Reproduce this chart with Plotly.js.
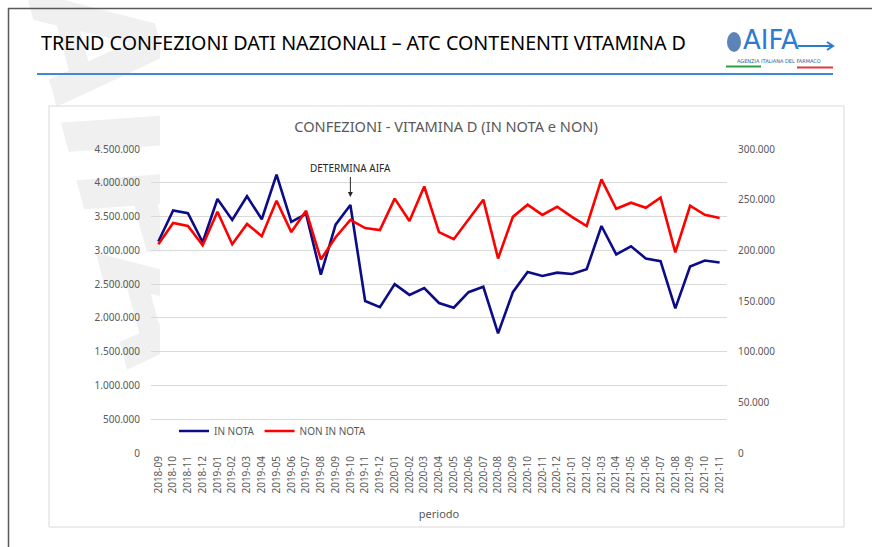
<!DOCTYPE html>
<html><head><meta charset="utf-8">
<script src="https://cdn.plot.ly/plotly-3.0.1.min.js"></script>
<style>html,body{margin:0;padding:0;background:#fff;} #chart{width:872px;height:547px;}</style>
</head><body><div id="chart"></div><script>
const periodi = ["2018-09","2018-10","2018-11","2018-12","2019-01","2019-02","2019-03","2019-04","2019-05","2019-06","2019-07","2019-08","2019-09","2019-10","2019-11","2019-12","2020-01","2020-02","2020-03","2020-04","2020-05","2020-06","2020-07","2020-08","2020-09","2020-10","2020-11","2020-12","2021-01","2021-02","2021-03","2021-04","2021-05","2021-06","2021-07","2021-08","2021-09","2021-10","2021-11"];
const inNota = [3130000,3590000,3550000,3120000,3760000,3450000,3800000,3460000,4120000,3420000,3540000,2640000,3380000,3670000,2250000,2160000,2500000,2340000,2440000,2220000,2150000,2380000,2460000,1770000,2380000,2680000,2620000,2670000,2650000,2720000,3360000,2940000,3060000,2880000,2840000,2140000,2760000,2850000,2820000];
const nonInNota = [206000,227000,224000,205000,238000,206000,226000,214000,249000,218000,239000,191000,213000,230000,222000,220000,251000,229000,263000,218000,211000,231000,250000,192000,233000,245000,235000,243000,233000,224000,270000,241000,247000,242000,252000,198000,244000,235000,232000];
const leftTicks = [0,500000,1000000,1500000,2000000,2500000,3000000,3500000,4000000,4500000];
const rightTicks = [0,50000,100000,150000,200000,250000,300000];
const seriesNames = ["IN NOTA","NON IN NOTA"];
const headerTitle = "TREND CONFEZIONI DATI NAZIONALI – ATC CONTENENTI VITAMINA D";
const chartTitle = "CONFEZIONI - VITAMINA D (IN NOTA e NON)";
const eventLabel = "DETERMINA AIFA";
const eventPeriod = "2019-10";

const W = 872, H = 547, L = 151, R = 727, T = 149, B = 453;
const px = x => (x - L) / (R - L);
const py = y => (B - y) / (B - T);
const FONT = "Noto Sans, Open Sans, sans-serif";
const GREY = "#595959";

const wm = '<svg xmlns="http://www.w3.org/2000/svg" width="160" height="547" viewBox="0 0 160 547">' +
  '<text x="0" y="0" transform="translate(28,0) rotate(75)" font-family="DejaVu Sans" font-weight="bold" font-style="italic" font-size="160" fill="#f0f0f0">AIFA</text></svg>';

const traces = [
  {x: periodi, y: inNota, name: seriesNames[0], type: "scatter", mode: "lines",
   line: {color: "#0c0c88", width: 2.6}, yaxis: "y"},
  {x: periodi, y: nonInNota, name: seriesNames[1], type: "scatter", mode: "lines",
   line: {color: "#ff0000", width: 2.6}, yaxis: "y2"}
];

const layout = {
  width: W, height: H,
  margin: {l: L, r: W - R, t: T, b: H - B, pad: 0},
  paper_bgcolor: "rgba(0,0,0,0)", plot_bgcolor: "rgba(0,0,0,0)",
  separators: ",.",
  font: {family: FONT, color: GREY, size: 10},
  showlegend: true,
  legend: {orientation: "h", x: px(174), y: py(431), xanchor: "left", yanchor: "middle",
           font: {size: 10, color: GREY}, bgcolor: "rgba(0,0,0,0)", itemwidth: 30, traceorder: "normal"},
  xaxis: {type: "category", categoryorder: "array", categoryarray: periodi, range: [-0.5, periodi.length - 0.5],
          tickangle: -90, showgrid: false, zeroline: false, showline: false, ticks: "",
          tickfont: {size: 10, color: GREY}, automargin: false,
          title: {text: "periodo", font: {size: 11, color: GREY}, standoff: 17}},
  yaxis: {range: [0, 4500000], tickvals: leftTicks, tickformat: ",d", showgrid: true,
          gridcolor: "#d9d9d9", gridwidth: 1, zeroline: false, showline: false, ticks: "",
          ticklabelstandoff: 10, tickfont: {size: 10, color: GREY}, automargin: false, fixedrange: true},
  yaxis2: {range: [0, 300000], tickvals: rightTicks, tickformat: ",d", overlaying: "y", side: "right",
           showgrid: false, zeroline: false, showline: false, ticks: "", ticklabelstandoff: 10,
           tickfont: {size: 10, color: GREY}, automargin: false},
  images: [{source: "data:image/svg+xml;charset=utf-8," + encodeURIComponent(wm),
            xref: "paper", yref: "paper", x: px(0), y: py(0), sizex: px(160) - px(0), sizey: py(0) - py(547),
            xanchor: "left", yanchor: "top", sizing: "stretch", layer: "below"}],
  shapes: [
    {type: "line", xref: "paper", yref: "paper", x0: px(8.5), x1: px(8.5), y0: py(8), y1: py(547), line: {color: "#595959", width: 1.5}, layer: "below"},
    {type: "line", xref: "paper", yref: "paper", x0: px(8), x1: px(872), y0: py(8.5), y1: py(8.5), line: {color: "#595959", width: 1.5}, layer: "below"},
    {type: "line", xref: "paper", yref: "paper", x0: px(37), x1: px(833), y0: py(74), y1: py(74), line: {color: "#3d8bd4", width: 2}, layer: "below"},
    {type: "rect", xref: "paper", yref: "paper", x0: px(49), x1: px(844), y0: py(106), y1: py(527), line: {color: "#d9d9d9", width: 1}, layer: "below"},
    {type: "circle", xref: "paper", yref: "paper", x0: px(727), x1: px(741), y0: py(32), y1: py(52), fillcolor: "#5c84b8", line: {color: "#5c84b8", width: 0}, layer: "below"},
    {type: "line", xref: "paper", yref: "paper", x0: px(798), x1: px(833), y0: py(46), y1: py(46), line: {color: "#2b7bd3", width: 2}, layer: "below"},
    {type: "path", xref: "paper", yref: "paper",
     path: `M ${px(827)} ${py(42)} L ${px(833)} ${py(46)} L ${px(827)} ${py(50)}`, line: {color: "#2b7bd3", width: 2}, layer: "below"},
    {type: "line", xref: "paper", yref: "paper", x0: px(726), x1: px(761), y0: py(66.5), y1: py(66.5), line: {color: "#2e9e3e", width: 2}, layer: "below"},
    {type: "line", xref: "paper", yref: "paper", x0: px(797), x1: px(833), y0: py(67.5), y1: py(67.5), line: {color: "#e03a3a", width: 2}, layer: "below"}
  ],
  title: {text: chartTitle, font: {size: 14.6, color: GREY, family: FONT}, x: 446 / W, xref: "container", xanchor: "center", y: 1 - 127 / H, yref: "container", yanchor: "middle"},
  annotations: [
    {text: headerTitle, xref: "paper", yref: "paper", x: px(39), y: py(42), xanchor: "left", yanchor: "middle", showarrow: false,
     font: {size: 19.7, color: "#000000", family: FONT}},
    {text: "AIFA", xref: "paper", yref: "paper", x: px(741), y: py(40), xanchor: "left", yanchor: "middle", showarrow: false,
     font: {size: 26, color: "#2b7bd3", family: "DejaVu Sans"}},
    {text: "AGENZIA ITALIANA DEL FARMACO", xref: "paper", yref: "paper", x: px(779), y: py(61), xanchor: "center", yanchor: "middle", showarrow: false,
     font: {size: 5, color: "#1d5fa8", family: "DejaVu Sans"}},
    {text: eventLabel, x: eventPeriod, y: 3790000, xref: "x", yref: "y", showarrow: true, arrowhead: 2, arrowsize: 1, arrowwidth: 1,
     arrowcolor: "#262626", ax: 0, ay: -20, yanchor: "bottom", font: {size: 10, color: "#262626"}}
  ]
};

Plotly.newPlot("chart", traces, layout, {displayModeBar: false, staticPlot: true});
</script></body></html>
